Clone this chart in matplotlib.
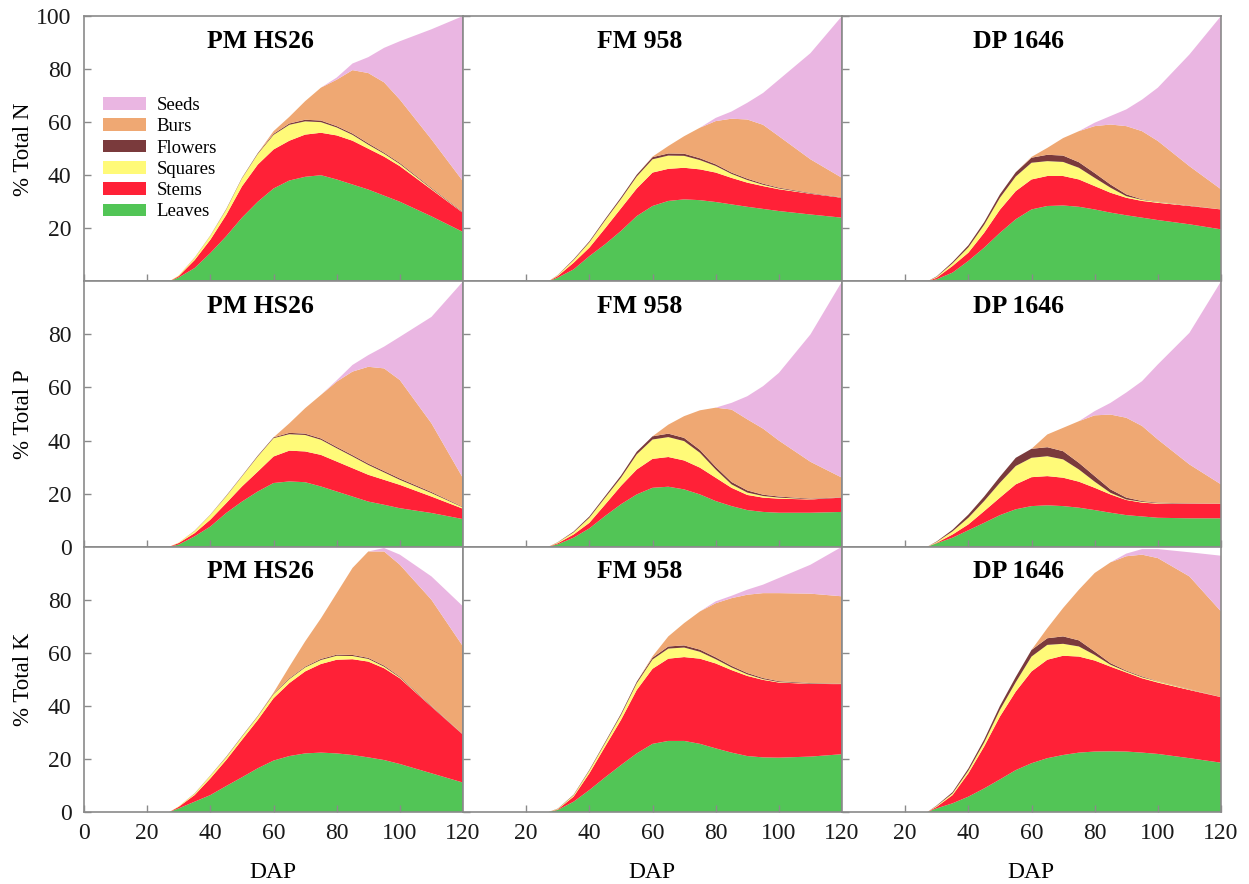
import matplotlib.pyplot as plt

plt.rcParams['font.family'] = ['Liberation Serif', 'DejaVu Serif']

# days after planting, shared by every panel
dap = [27, 30, 35, 40, 45, 50, 55, 60, 65, 70, 75, 80, 85, 90, 95, 100, 110, 120]

parts = ['Leaves', 'Stems', 'Squares', 'Flowers', 'Burs', 'Seeds']
colors = ['#52C556', '#FF2137', '#FFFA78', '#7A3A3C', '#EFA873', '#EAB6E2']
cultivars = ['PM HS26', 'FM 958', 'DP 1646']
nutrients = ['N', 'P', 'K']

# ---- % total N ----
n_pm_leaves = [0, 1.5, 5, 10.7, 17, 24, 30, 35, 38, 39.4, 40, 38.4, 36.5, 34.6, 32.3, 30, 24.5, 18.6]
n_pm_stems = [0, 0.5, 3, 5, 8, 11.8, 14, 14.7, 15, 15.9, 16, 16.6, 16.5, 15.4, 14.7, 13.4, 10.1, 7.2]
n_pm_squares = [0, 0.3, 0.8, 1.5, 2, 3, 4, 5.5, 6, 5, 4, 3, 2.2, 1.5, 1.1, 0.8, 0.3, 0.1]
n_pm_flowers = [0, 0, 0.1, 0.1, 0.2, 0.2, 0.3, 0.4, 0.5, 0.6, 0.6, 0.5, 0.5, 0.5, 0.4, 0.4, 0.3, 0.2]
n_pm_burs = [0, 0, 0, 0, 0, 0, 0, 1, 2.5, 7, 12.4, 17.5, 23.9, 26.5, 26.5, 23.9, 18.3, 11.6]
n_pm_seeds = [0, 0, 0, 0, 0, 0, 0, 0, 0, 0, 0, 0.8, 2.5, 6, 13, 22, 41.5, 62.3]

n_fm_leaves = [0, 1.4, 4.5, 9.5, 14, 19, 24.6, 28.4, 30.3, 30.9, 30.6, 29.9, 29, 28.1, 27.3, 26.5, 25.2, 24]
n_fm_stems = [0, 0.6, 2.5, 3.2, 6, 8.5, 10.4, 12.6, 12.1, 11.9, 11.6, 11.1, 10, 9.1, 8.6, 8.2, 7.8, 7.5]
n_fm_squares = [0, 0.3, 1, 2, 3, 3.5, 4.5, 5, 5, 4.5, 3.5, 2.5, 1.5, 1, 0.5, 0.3, 0.1, 0.1]
n_fm_flowers = [0, 0.1, 0.3, 0.4, 0.5, 0.6, 0.7, 0.8, 0.8, 0.8, 0.7, 0.6, 0.5, 0.5, 0.4, 0.3, 0.2, 0.1]
n_fm_burs = [0, 0, 0, 0, 0, 0, 0, 0.2, 2.8, 6.6, 11.5, 16.3, 20.3, 22.3, 22.2, 19.4, 12.7, 7.3]
n_fm_seeds = [0, 0, 0, 0, 0, 0, 0, 0, 0, 0, 0, 1.2, 2.7, 6.3, 12, 21.3, 40, 61]

n_dp_leaves = [0, 0.8, 3.3, 7.7, 12.7, 18.3, 23.4, 27.1, 28.4, 28.6, 28.1, 27.1, 25.9, 24.9, 24, 23.1, 21.5, 19.6]
n_dp_stems = [0, 0.6, 2.5, 3.1, 5.6, 8.7, 10.6, 11.3, 11.3, 11.1, 10.3, 8.8, 7.5, 6.6, 6.3, 6.5, 6.9, 7.5]
n_dp_squares = [0, 0.3, 1, 2, 3, 4.5, 5.5, 6.3, 5.6, 5.3, 4.4, 3.1, 1.9, 0.6, 0.4, 0.3, 0.1, 0]
n_dp_flowers = [0, 0.2, 0.5, 0.8, 1, 1.3, 1.6, 1.9, 2.4, 2.4, 2.1, 1.8, 1.2, 0.7, 0.2, 0.1, 0.1, 0]
n_dp_burs = [0, 0, 0, 0, 0, 0, 0, 0.3, 2.6, 6.6, 11.7, 17.7, 22.6, 25.7, 25.7, 22.9, 14.8, 7.6]
n_dp_seeds = [0, 0, 0, 0, 0, 0, 0, 0, 0, 0, 0, 1.3, 3.2, 6.3, 11.9, 20.1, 42.1, 65.3]

# ---- % total P ----
p_pm_leaves = [0, 0.8, 3.9, 7.6, 12.7, 17, 20.8, 24, 24.6, 24.3, 22.7, 20.8, 18.9, 17, 15.8, 14.5, 12.7, 10.4]
p_pm_stems = [0, 0.6, 1.2, 2.6, 3.7, 5.7, 7.5, 10, 11.6, 11.6, 11.9, 11.3, 10.7, 10.1, 9.4, 8.8, 6.2, 3.9]
p_pm_squares = [0, 0.2, 0.8, 1.8, 2.6, 3.8, 5.7, 6.9, 6.2, 6.2, 5.7, 5, 4.4, 3.7, 2.8, 1.9, 1.3, 0.5]
p_pm_flowers = [0, 0, 0.1, 0.1, 0.2, 0.2, 0.3, 0.3, 0.5, 0.5, 0.5, 0.5, 0.5, 0.5, 0.5, 0.5, 0.4, 0.2]
p_pm_burs = [0, 0, 0, 0, 0, 0, 0, 0, 3.6, 9.6, 16.4, 24.6, 31.5, 36.5, 38.7, 37.1, 25.9, 10.8]
p_pm_seeds = [0, 0, 0, 0, 0, 0, 0, 0, 0, 0, 0, 0.5, 2.5, 4.4, 8.2, 16.3, 40.1, 74.2]

p_fm_leaves = [0, 0.9, 3.4, 6.9, 11.6, 16, 19.7, 22.2, 22.6, 21.6, 19.7, 17.2, 15.3, 13.8, 13.1, 12.8, 12.8, 13.1]
p_fm_stems = [0, 0.4, 1.2, 2.1, 4.3, 6.9, 9.4, 10.9, 11.2, 10.9, 10.1, 8.8, 6.9, 5.7, 5.4, 5.3, 5, 5.4]
p_fm_squares = [0, 0.3, 0.8, 1.9, 2.6, 3.1, 5.7, 7.3, 7.5, 7.3, 5.6, 3.1, 1.3, 0.9, 0.6, 0.4, 0.1, 0]
p_fm_flowers = [0, 0.1, 0.3, 0.5, 0.6, 0.8, 1, 1.2, 1.3, 1.2, 1.1, 1, 0.9, 0.8, 0.5, 0.4, 0.2, 0.1]
p_fm_burs = [0, 0, 0, 0, 0, 0, 0, 0, 3.4, 8.2, 14.9, 22.3, 27.3, 26.8, 24.9, 21.1, 13.9, 7.4]
p_fm_seeds = [0, 0, 0, 0, 0, 0, 0, 0, 0, 0, 0, 0, 2.5, 8.7, 16, 25.5, 48, 74]

p_dp_leaves = [0, 1.3, 3.4, 6.2, 9, 11.9, 14.1, 15.3, 15.6, 15.3, 14.7, 13.8, 12.8, 11.9, 11.4, 10.9, 10.7, 10.7]
p_dp_stems = [0, 0.2, 1.2, 2.2, 4.4, 6.6, 9.4, 10.9, 11, 10.7, 9.8, 8.4, 6.9, 5.7, 5.2, 5.3, 5.5, 5.5]
p_dp_squares = [0, 0.3, 1.2, 2.5, 3.8, 5.6, 6.9, 7.3, 7.5, 6.9, 4.6, 2.3, 0.6, 0.2, 0.3, 0.2, 0, 0]
p_dp_flowers = [0, 0.2, 0.6, 1.2, 1.7, 2.3, 3.1, 3.4, 3.4, 3.1, 2.5, 2.1, 1.3, 0.7, 0.3, 0.2, 0.1, 0]
p_dp_burs = [0, 0, 0, 0, 0, 0, 0, 0, 4.8, 8.8, 15.7, 22.9, 28.2, 30.1, 28.3, 23.8, 14.7, 7.3]
p_dp_seeds = [0, 0, 0, 0, 0, 0, 0, 0, 0, 0, 0, 1.6, 4.4, 9.5, 16.9, 28.3, 49.6, 76.5]

# ---- % total K ----
k_pm_leaves = [0, 1.4, 3.9, 6.4, 9.8, 13.1, 16.5, 19.4, 21.1, 22.1, 22.4, 22.1, 21.5, 20.6, 19.6, 18.1, 14.6, 11.1]
k_pm_stems = [0, 0.6, 2.5, 6.3, 9.8, 14.1, 18.2, 23.5, 27.5, 30.9, 33.4, 35.3, 36.1, 36.1, 34.6, 32.3, 25.1, 18]
k_pm_squares = [0, 0.2, 0.5, 1, 1, 1.2, 1.3, 1.5, 1.5, 1.5, 1.5, 1.5, 1.2, 1, 0.6, 0.3, 0.1, 0]
k_pm_flowers = [0, 0, 0.1, 0.1, 0.2, 0.2, 0.2, 0.3, 0.3, 0.3, 0.4, 0.4, 0.4, 0.4, 0.4, 0.3, 0.2, 0.1]
k_pm_burs = [0, 0, 0, 0, 0, 0, 0, 0.3, 4.4, 9.5, 15.3, 23.2, 32.8, 40.1, 43, 42.2, 40, 33.2]
k_pm_seeds = [0, 0, 0, 0, 0, 0, 0, 0, 0, 0, 0, 0, 0, 0, 1.3, 3.8, 8.8, 15.1]

k_fm_leaves = [0, 0.8, 3.9, 8.3, 13.1, 17.7, 22.1, 25.7, 26.8, 26.8, 25.7, 24, 22.4, 21.1, 20.6, 20.5, 20.9, 21.8]
k_fm_stems = [0, 0.2, 1.9, 6.3, 11.6, 17, 23.9, 28.3, 31, 31.6, 32.1, 32, 31.1, 30.2, 29.2, 28.3, 27.4, 26.4]
k_fm_squares = [0, 0.2, 0.5, 1, 1.3, 1.8, 2.5, 3.5, 3.8, 3.6, 2.6, 1.6, 1, 0.6, 0.3, 0.2, 0.1, 0]
k_fm_flowers = [0, 0.1, 0.2, 0.3, 0.4, 0.5, 0.6, 0.7, 0.8, 0.8, 0.8, 0.7, 0.6, 0.5, 0.4, 0.3, 0.2, 0.1]
k_fm_burs = [0, 0, 0, 0, 0, 0, 0, 0.5, 3.8, 8.4, 14.4, 20.4, 25.5, 29.5, 32, 33.2, 33.7, 33]
k_fm_seeds = [0, 0, 0, 0, 0, 0, 0, 0, 0, 0, 0, 0.7, 0.9, 1.9, 3.2, 5.7, 10.9, 18.7]

k_dp_leaves = [0, 1.4, 3.3, 5.8, 8.9, 12.3, 15.8, 18.4, 20.3, 21.5, 22.4, 22.8, 22.9, 22.8, 22.4, 21.9, 20.3, 18.6]
k_dp_stems = [0, 0.6, 3.1, 8.8, 15.8, 23.7, 29.6, 34.6, 37.1, 37.4, 36.2, 34.3, 31.9, 29.8, 28, 26.9, 25.7, 24.7]
k_dp_squares = [0, 0.3, 0.6, 1, 1.5, 2.5, 3.5, 5.6, 5.6, 4.5, 3.8, 2.1, 0.7, 0.4, 0.4, 0.4, 0.2, 0]
k_dp_flowers = [0, 0.2, 0.5, 0.8, 1.1, 1.5, 2, 2.5, 2.5, 2.8, 2.3, 1.3, 0.6, 0.3, 0.3, 0.1, 0.1, 0]
k_dp_burs = [0, 0, 0, 0, 0, 0, 0, 0, 3.8, 10.7, 19.1, 29.6, 38, 43.1, 45.9, 46.4, 42.5, 32.3]
k_dp_seeds = [0, 0, 0, 0, 0, 0, 0, 0, 0, 0, 0, 0, 0, 1, 2.1, 3.4, 9.1, 21]

panels = [
    [[n_pm_leaves, n_pm_stems, n_pm_squares, n_pm_flowers, n_pm_burs, n_pm_seeds],
     [n_fm_leaves, n_fm_stems, n_fm_squares, n_fm_flowers, n_fm_burs, n_fm_seeds],
     [n_dp_leaves, n_dp_stems, n_dp_squares, n_dp_flowers, n_dp_burs, n_dp_seeds]],
    [[p_pm_leaves, p_pm_stems, p_pm_squares, p_pm_flowers, p_pm_burs, p_pm_seeds],
     [p_fm_leaves, p_fm_stems, p_fm_squares, p_fm_flowers, p_fm_burs, p_fm_seeds],
     [p_dp_leaves, p_dp_stems, p_dp_squares, p_dp_flowers, p_dp_burs, p_dp_seeds]],
    [[k_pm_leaves, k_pm_stems, k_pm_squares, k_pm_flowers, k_pm_burs, k_pm_seeds],
     [k_fm_leaves, k_fm_stems, k_fm_squares, k_fm_flowers, k_fm_burs, k_fm_seeds],
     [k_dp_leaves, k_dp_stems, k_dp_squares, k_dp_flowers, k_dp_burs, k_dp_seeds]],
]

fig, axes = plt.subplots(3, 3, figsize=(12.49, 8.84), dpi=100)
fig.subplots_adjust(left=0.0673, right=0.9776, top=0.9819, bottom=0.0814,
                    wspace=0, hspace=0)

spine_col = '#8a8a8a'
for r in range(3):
    for c in range(3):
        ax = axes[r, c]
        polys = ax.stackplot(dap, *panels[r][c], colors=colors, labels=parts,
                             linewidth=0)
        ax.set_xlim(0, 120)
        ax.set_ylim(0, 100)
        for s in ax.spines.values():
            s.set_color(spine_col)
            s.set_linewidth(1.2)
        ax.tick_params(direction='in', length=5, width=1, color=spine_col,
                       labelsize=17, labelcolor='#1a1a1a')
        ax.tick_params(axis='y', pad=9)
        ax.tick_params(axis='x', pad=8)

        if r == 0:
            ax.set_yticks([20, 40, 60, 80, 100])
        else:
            ax.set_yticks([0, 20, 40, 60, 80])
        if c == 0:
            ax.set_xticks([0, 20, 40, 60, 80, 100, 120])
        else:
            ax.set_xticks([20, 40, 60, 80, 100, 120])
        if c > 0:
            ax.tick_params(labelleft=False)
        if r < 2:
            ax.tick_params(labelbottom=False)

        ax.text(0.465, 0.905, cultivars[c], transform=ax.transAxes,
                ha='center', va='center', fontsize=18.5, fontweight='bold')

        if r == 0 and c == 0:
            ax.legend(polys[::-1], parts[::-1], loc='upper left',
                      bbox_to_anchor=(0.05, 0.695), frameon=False, fontsize=13.5,
                      handlelength=2.3, handleheight=0.65, labelspacing=0.23,
                      handletextpad=0.55, borderaxespad=0, borderpad=0)

row_centers = [1 - 149 / 884, 1 - 414.5 / 884, 1 - 679.5 / 884]
for r in range(3):
    fig.text(0.019, row_centers[r], '% Total ' + nutrients[r], rotation=90,
             ha='center', va='center', fontsize=16.5)

col_centers = [273 / 1249, 651.5 / 1249, 1031 / 1249]
for c in range(3):
    fig.text(col_centers[c], 1 - 872 / 884, 'DAP', ha='center', va='center',
             fontsize=17)

plt.savefig('out.png', dpi=100)
